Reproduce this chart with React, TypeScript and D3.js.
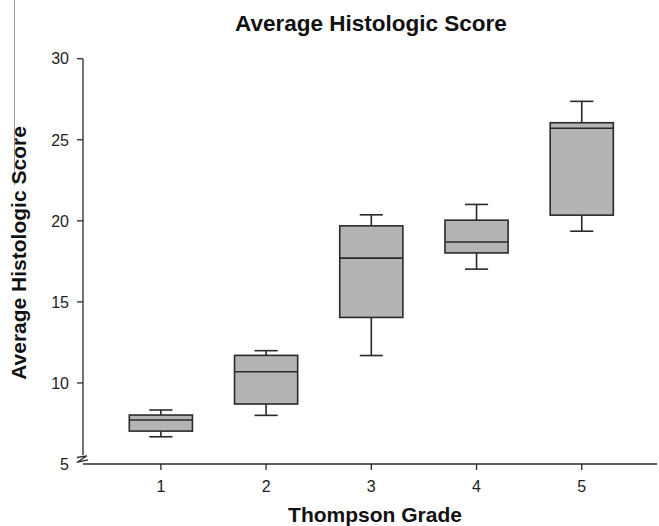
import React from "react";
import * as d3 from "d3";

const grades = [1, 2, 3, 4, 5];
const whiskerLow = [6.68, 8.0, 11.69, 17.02, 19.36];
const q1 = [7.03, 8.7, 14.04, 18.02, 20.35];
const medians = [7.71, 10.69, 17.7, 18.69, 25.71];
const q3 = [8.02, 11.7, 19.69, 20.04, 26.05];
const whiskerHigh = [8.33, 11.99, 20.37, 21.01, 27.37];
const yTicks = [5, 10, 15, 20, 25, 30];
const xTicks = [1, 2, 3, 4, 5];

const W = 659;
const H = 526;

export default function App() {
  const x = d3.scaleLinear().domain([0.26, 5.715]).range([83, 657]);
  const y = d3.scaleLinear().domain([5, 30]).range([464, 58.7]);
  const boxW = x(1.3) - x(1);
  const capW = x(1.11) - x(1);
  const font = "'Liberation Sans', Arial, sans-serif";
  const stroke = "#2a2a2a";

  return (
    <svg width={W} height={H} style={{ position: "absolute", left: 0, top: 0 }} fontFamily={font}>
      <rect width={W} height={H} fill="#fff" />
      <line x1={14.5} x2={14.5} y1={0} y2={185} stroke="#9a9a9a" strokeWidth={1} />
      <text x={371} y={31} textAnchor="middle" fontSize={22.5} fontWeight="bold" fill="#111">
        Average Histologic Score
      </text>
      {/* y axis */}
      <line x1={83} x2={83} y1={y(30)} y2={455} stroke={stroke} strokeWidth={1.3} />
      {yTicks.map((t) => (
        <g key={t}>
          {t !== 5 && <line x1={77} x2={83} y1={y(t)} y2={y(t)} stroke={stroke} strokeWidth={1.3} />}
          <text x={69} y={y(t)} dy="0.36em" textAnchor="end" fontSize={16} fill="#222">
            {t}
          </text>
        </g>
      ))}
      {/* axis break */}
      <path d="M77,457.5 L87,455.8 M76.5,462.3 L88,459.8 M87,455.8 L78,461.8" fill="none" stroke={stroke} strokeWidth={1.3} />
      {/* x axis */}
      <line x1={83} x2={657} y1={464} y2={464} stroke={stroke} strokeWidth={1.3} />
      {xTicks.map((t) => (
        <g key={t}>
          <line x1={x(t)} x2={x(t)} y1={464} y2={470} stroke={stroke} strokeWidth={1.3} />
          <text x={x(t)} y={492} textAnchor="middle" fontSize={16} fill="#222">
            {t}
          </text>
        </g>
      ))}
      <text x={375} y={522} textAnchor="middle" fontSize={21} fontWeight="bold" fill="#111">
        Thompson Grade
      </text>
      <text
        transform={`translate(26,${253}) rotate(-90)`}
        textAnchor="middle"
        fontSize={21}
        fontWeight="bold"
        fill="#111"
      >
        Average Histologic Score
      </text>
      {/* boxes */}
      {grades.map((g, i) => {
        const cx = x(g);
        return (
          <g key={g} stroke={stroke} strokeWidth={1.6}>
            <line x1={cx} x2={cx} y1={y(whiskerHigh[i])} y2={y(q3[i])} />
            <line x1={cx} x2={cx} y1={y(q1[i])} y2={y(whiskerLow[i])} />
            <line x1={cx - capW} x2={cx + capW} y1={y(whiskerHigh[i])} y2={y(whiskerHigh[i])} />
            <line x1={cx - capW} x2={cx + capW} y1={y(whiskerLow[i])} y2={y(whiskerLow[i])} />
            <rect
              x={cx - boxW}
              y={y(q3[i])}
              width={boxW * 2}
              height={y(q1[i]) - y(q3[i])}
              fill="#b4b4b4"
            />
            <line x1={cx - boxW} x2={cx + boxW} y1={y(medians[i])} y2={y(medians[i])} />
          </g>
        );
      })}
    </svg>
  );
}
